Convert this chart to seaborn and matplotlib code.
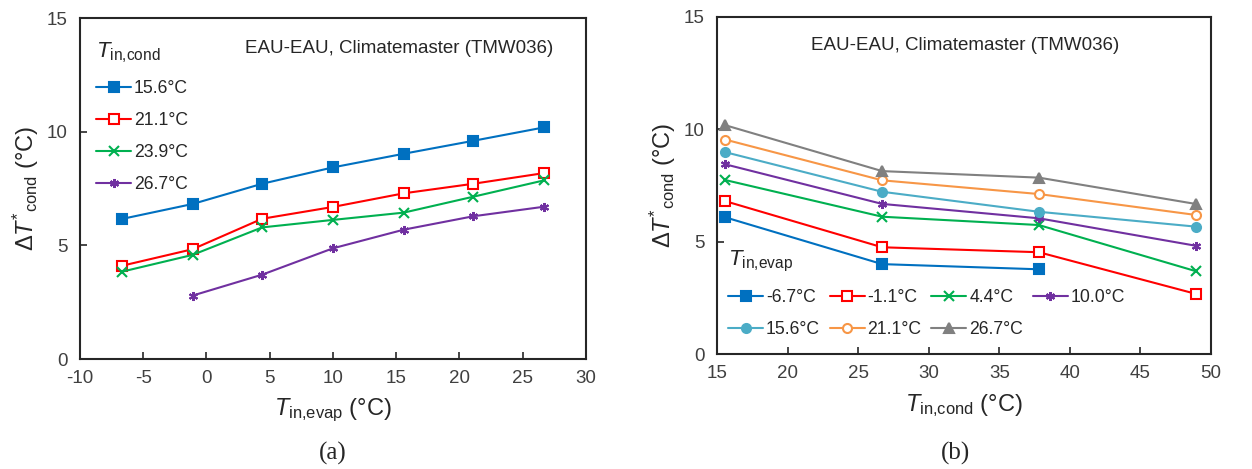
import numpy as np
import pandas as pd
import matplotlib
matplotlib.use("Agg")
import matplotlib.pyplot as plt
import seaborn as sns

# panel (a): dT*_cond vs T_in,evap for several T_in,cond
t_evap = [-6.7, -1.1, 4.4, 10.0, 15.6, 21.1, 26.7]
a_15_6 = [6.16, 6.82, 7.71, 8.43, 9.03, 9.60, 10.19]
a_21_1 = [4.10, 4.83, 6.17, 6.69, 7.29, 7.71, 8.18]
a_23_9 = [3.84, 4.58, 5.79, 6.12, 6.44, 7.14, 7.86]
a_26_7 = [None, 2.79, 3.71, 4.87, 5.69, 6.28, 6.70]
a_labels = ["15.6°C", "21.1°C", "23.9°C", "26.7°C"]

# panel (b): dT*_cond vs T_in,cond for several T_in,evap
t_cond = [15.6, 26.7, 37.8, 48.9]
b_m6_7 = [6.08, 4.00, 3.77, None]
b_m1_1 = [6.80, 4.75, 4.53, 2.68]
b_4_4 = [7.74, 6.11, 5.74, 3.69]
b_10_0 = [8.44, 6.68, 6.04, 4.82]
b_15_6 = [8.98, 7.22, 6.33, 5.67]
b_21_1 = [9.54, 7.73, 7.12, 6.19]
b_26_7 = [10.18, 8.14, 7.85, 6.68]
b_labels = ["-6.7°C", "-1.1°C", "4.4°C", "10.0°C", "15.6°C", "21.1°C", "26.7°C"]

title_text = "EAU-EAU, Climatemaster (TMW036)"

sns.set_style("ticks")
plt.rcParams['font.family'] = ['Liberation Sans', 'DejaVu Sans']
plt.rcParams['axes.unicode_minus'] = False
plt.rcParams['mathtext.fontset'] = 'custom'
plt.rcParams['mathtext.rm'] = 'Liberation Sans'
plt.rcParams['mathtext.it'] = 'Liberation Sans:italic'

# marker styles: (color, marker, facecolor)
styles_a = [("#0070C0", "s", "#0070C0"), ("#FF0000", "s", "white"),
            ("#00B050", "x", "#00B050"), ("#7030A0", (6, 2, 0), "#7030A0")]
styles_b = [("#0070C0", "s", "#0070C0"), ("#FF0000", "s", "white"),
            ("#00B050", "x", "#00B050"), ("#7030A0", (6, 2, 0), "#7030A0"),
            ("#4BACC6", "o", "#4BACC6"), ("#F79646", "o", "white"),
            ("#808080", "^", "#808080")]

fig = plt.figure(figsize=(12.52, 4.69), dpi=100)
ax1 = fig.add_axes([0.0639, 0.2345, 0.404, 0.727])
ax2 = fig.add_axes([0.5727, 0.2452, 0.3946, 0.7186])


def draw(ax, x, series, labels, styles):
    for ys, lab, (c, m, fc) in zip(series, labels, styles):
        df = pd.DataFrame({"x": x, "y": ys}).dropna()
        sns.lineplot(data=df, x="x", y="y", ax=ax, color=c, marker=m,
                     markerfacecolor=fc, markeredgecolor=c, markersize=6.5,
                     markeredgewidth=1.5, linewidth=1.5, label=lab)


draw(ax1, t_evap, [a_15_6, a_21_1, a_23_9, a_26_7], a_labels, styles_a)
draw(ax2, t_cond, [b_m6_7, b_m1_1, b_4_4, b_10_0, b_15_6, b_21_1, b_26_7],
     b_labels, styles_b)

ylab = r"$\mathit{\Delta T}^{*}{}_{\mathrm{cond}}$ (°C)"
for ax in (ax1, ax2):
    ax.set_ylim(0, 15)
    ax.set_yticks([0, 5, 10, 15])
    ax.tick_params(direction="in", labelsize=13.5, labelcolor="#404040",
                   length=5, width=1.2)
    ax.tick_params(axis="y", pad=9)
    ax.tick_params(axis="x", pad=8)
    ax.set_ylabel(ylab, fontsize=17, labelpad=4)
    for sp in ax.spines.values():
        sp.set_linewidth(1.5)

ax1.set_xlim(-10, 30)
ax1.set_xticks(range(-10, 31, 5))
ax1.set_xlabel(r"$\mathit{T}_{\mathrm{in{,}evap}}$ (°C)", fontsize=17, labelpad=7)
ax2.set_xlim(15, 50)
ax2.set_xticks(range(15, 51, 5))
ax2.set_xlabel(r"$\mathit{T}_{\mathrm{in{,}cond}}$ (°C)", fontsize=17, labelpad=7)

ax1.text(0.63, 0.91, title_text, transform=ax1.transAxes, ha="center",
         va="center", fontsize=13.5)
ax2.text(0.502, 0.915, title_text, transform=ax2.transAxes, ha="center",
         va="center", fontsize=13.5)

leg1 = ax1.legend(title=r"$\mathit{T}_{\mathrm{in{,}cond}}$", loc="upper left",
                  bbox_to_anchor=(0.0, 0.98), frameon=False, fontsize=12.7,
                  title_fontsize=16, handlelength=2.0, handletextpad=0.15,
                  labelspacing=0.85)
leg1._legend_box.align = "left"

# row-major ordering for a 4-column legend
h, l = ax2.get_legend_handles_labels()
order = [0, 4, 1, 5, 2, 6, 3]
leg2 = ax2.legend([h[i] for i in order], [l[i] for i in order],
                  title=r"$\mathit{T}_{\mathrm{in{,}evap}}$", loc="lower left",
                  bbox_to_anchor=(-0.01, 0.0), frameon=False, fontsize=12.7,
                  title_fontsize=16, ncol=4, handlelength=2.0,
                  handletextpad=0.15, columnspacing=0.55, labelspacing=0.85)
leg2._legend_box.align = "left"

fig.text(0.266, 0.02, "(a)", ha="center", fontsize=18,
         family=["Liberation Serif"])
fig.text(0.763, 0.02, "(b)", ha="center", fontsize=18,
         family=["Liberation Serif"])

fig.savefig("out.png", dpi=100)
